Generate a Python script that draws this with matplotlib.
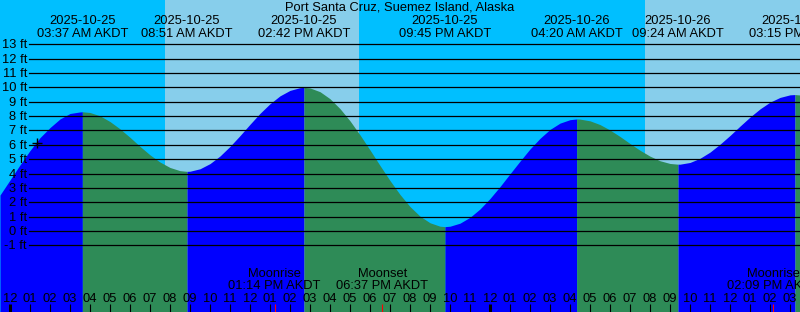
import numpy as np
import pandas as pd
import matplotlib
matplotlib.use("Agg")
import matplotlib.pyplot as plt

# tide extremes (local time, AKDT) and heights in ft
tide_times = ["2025-10-25 03:37", "2025-10-25 08:51", "2025-10-25 14:42",
              "2025-10-25 21:45", "2025-10-26 04:20", "2025-10-26 09:24",
              "2025-10-26 15:15"]
tide_heights = [8.3, 4.15, 10.0, 0.3, 7.8, 4.65, 9.5]

# curve every half hour, from 23:30 on 2025-10-24
curve_start = "2025-10-24 23:30"
curve_ft = [2.5, 3.55, 4.6, 5.6, 6.5, 7.2, 7.8, 8.18, 8.29,
            8.25, 8.02, 7.62, 7.11, 6.52, 5.89, 5.30, 4.80, 4.42, 4.20,
            4.16, 4.33, 4.69, 5.22, 5.89, 6.64, 7.43, 8.19, 8.86, 9.41,
            9.79, 9.98, 9.96, 9.70, 9.21, 8.52, 7.67, 6.69, 5.64, 4.56,
            3.51, 2.54, 1.70, 1.03, 0.57, 0.33, 0.33, 0.54, 0.95, 1.53,
            2.26, 3.09, 3.98, 4.86, 5.71, 6.45, 7.07, 7.51, 7.75, 7.79,
            7.67, 7.41, 7.03, 6.58, 6.09, 5.62, 5.21, 4.89, 4.70, 4.65,
            4.77, 5.06, 5.49, 6.04, 6.65, 7.30, 7.93, 8.50, 8.97, 9.30,
            9.48, 9.47]

# daylight periods
day_spans = [("2025-10-25 07:45", "2025-10-25 17:27"),
             ("2025-10-26 07:45", "2025-10-26 23:59")]

# moon events
moon_events = ["Moonrise", "Moonset", "Moonrise"]
moon_times = ["2025-10-25 13:14", "2025-10-25 18:37", "2025-10-26 14:09"]

current_mark = ("2025-10-25 01:21", 6.1)

title = "Port Santa Cruz, Suemez Island, Alaska"
levels = list(range(-1, 14))

T0 = pd.Timestamp("2025-10-25 00:00")


def hours(s):
    return (pd.Timestamp(s) - T0) / pd.Timedelta(hours=1)


def fmt_time(s):
    return pd.Timestamp(s).strftime("%I:%M %p") + " AKDT"


# layout in pixels
W, H = 800, 312
ZERO_PX = 230.95
PX_PER_FT = 14.357


def py(ypix):
    return (ZERO_PX - ypix) / PX_PER_FT


NIGHT = "#00BFFF"
DAY = "#87CEEB"
RISE = "#0000FF"
FALL = "#2E8B57"

plt.rcParams["font.family"] = ["Liberation Sans", "DejaVu Sans"]
FS = 9.3

fig = plt.figure(figsize=(W / 100, H / 100), dpi=100)
ax = fig.add_axes([0, 0, 1, 1])
ax.set_xlim(-0.5, 39.5)
ax.set_ylim(py(H), py(0))
ax.axis("off")
fig.patch.set_facecolor(NIGHT)
ax.axvspan(-0.5, 39.5, color=NIGHT, lw=0, zorder=0)
for a, b in day_spans:
    ax.axvspan(hours(a), hours(b), color=DAY, lw=0, zorder=1)

# tide curve, split at each extreme
curve_hours = hours(curve_start) + 0.5 * np.arange(len(curve_ft))
ext_h = [hours(s) for s in tide_times]
t = np.concatenate([curve_hours, ext_h])
v = np.concatenate([curve_ft, tide_heights])
order = np.argsort(t)
t, v = t[order], v[order]
bounds = [t[0]] + ext_h + [t[-1]]
for a, b in zip(bounds[:-1], bounds[1:]):
    m = (t >= a - 1e-9) & (t <= b + 1e-9)
    rising = v[m][-1] > v[m][0]
    ax.fill_between(t[m], v[m], py(H), color=RISE if rising else FALL,
                    lw=0, zorder=2)

# level lines and labels
for lv in levels:
    ax.axhline(lv, xmin=29 / W, xmax=1, color="black", lw=0.9, zorder=3)
    ax.text(-0.5 + 27 / 20, lv - 4 / PX_PER_FT, f"{lv} ft", ha="right",
            va="baseline", fontsize=FS, zorder=4)

ax.plot(hours(current_mark[0]), current_mark[1], marker="+", color="black",
        ms=7, mew=1, zorder=4)

# title and extreme labels
ax.text(19.5, py(11), title, ha="center", va="baseline", fontsize=FS)
for s in tide_times:
    x = hours(s)
    ax.text(x, py(24), s[:10], ha="center", va="baseline", fontsize=FS)
    ax.text(x, py(36.7), fmt_time(s), ha="center", va="baseline", fontsize=FS)

# moon events
for name, s in zip(moon_events, moon_times):
    x = hours(s)
    ax.text(x, py(277.3), name, ha="center", va="baseline", fontsize=FS)
    ax.text(x, py(289.3), fmt_time(s), ha="center", va="baseline", fontsize=FS)
    ax.vlines(x, py(312), py(304), color="red", lw=0.8, zorder=5)

# hour ticks
for hr in range(0, 40):
    lab = f"{(hr % 12) or 12:02d}"
    ax.text(hr, py(302.3), lab, ha="center", va="baseline", fontsize=FS)
    ax.vlines(hr, py(312), py(304), color="black",
              lw=2.2 if hr % 24 == 0 else 0.8, zorder=5)

fig.savefig("out.png", dpi=100, facecolor=NIGHT)
